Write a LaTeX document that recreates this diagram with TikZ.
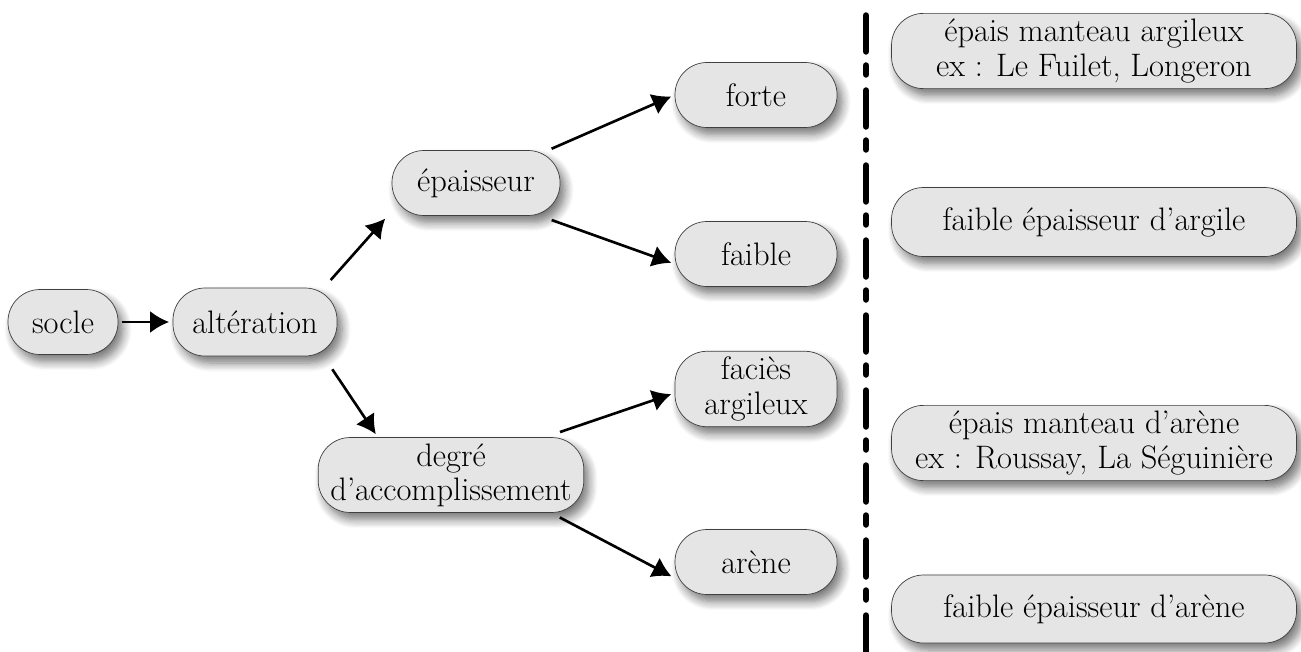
\documentclass[tikz,border=0pt]{standalone}
\usepackage{fontspec}
\usetikzlibrary{arrows.meta,shadows.blur}
\tikzstyle{block} = [rectangle, draw=black!75, fill=black!10, align=center, rounded corners=0.64cm, minimum height=1.3cm, inner xsep=2pt, font=\fontsize{18.5}{19.5}\selectfont, blur shadow={shadow xshift=0.1cm, shadow yshift=-0.14cm, shadow blur steps=8, shadow blur radius=5pt, shadow opacity=55}]
\tikzstyle{line} = [draw, line width=1.5pt, -{Latex[length=0.38cm,width=0.44cm]}, shorten <=2pt, shorten >=2pt]
\tikzstyle{separator} = [draw, line width=0.13cm, line cap=round, dash pattern=on 0.72cm off 0.28cm on 0.18cm off 0.32cm]

\begin{document}
\begin{tikzpicture}
  \useasboundingbox (0,0) rectangle (26.02,-13.02);

  \node [block, minimum width=2.2cm]  (socle)  at (1.26,-6.44) {socle};
  \node [block, minimum width=3.28cm, minimum height=1.36cm] (alteration) at (5.1,-6.44) {altération};

  \node [block, minimum width=3.36cm] (epaisseur) at (9.52,-3.66) {épaisseur};
  \node [block, inner xsep=7pt, minimum height=1.4cm] (degre) at (9.02,-9.5) {degré\\d’accomplissement};

  \node [block, minimum width=3.24cm] (forte) at (15.12,-1.9) {forte};
  \node [block, minimum width=3.24cm] (faible) at (15.12,-5.08) {faible};
  \node [block, minimum width=3.24cm, minimum height=1.32cm] (facies) at (15.12,-7.78) {faciès\\argileux};
  \node [block, minimum width=3.24cm] (arene) at (15.12,-11.24) {arène};

  \node [block, minimum width=8.1cm, minimum height=1.36cm] (manteau_argile) at (21.88,-1.02) {épais manteau argileux\\ex : Le Fuilet, Longeron};
  \node [block, minimum width=8.1cm, minimum height=1.38cm] (faible_argile) at (21.88,-4.44) {faible épaisseur d’argile};
  \node [block, minimum width=8.1cm, minimum height=1.4cm] (manteau_arene) at (21.88,-8.86) {épais manteau d’arène\\ex : Roussay, La Séguinière};
  \node [block, minimum width=8.1cm, minimum height=1.36cm] (faible_arene) at (21.88,-12.18) {faible épaisseur d’arène};

  \path [line] (socle) -- (alteration);
  \path [line] ([xshift=-0.18cm,yshift=0.1cm]alteration.north east) -- ([xshift=-0.08cm]epaisseur.south west);
  \path [line] ([xshift=-0.14cm,yshift=-0.2cm]alteration.south east) -- ([xshift=1.2cm]degre.north west);

  \path [line] ([xshift=-0.24cm]epaisseur.north east) -- (forte.west);
  \path [line] ([xshift=-0.24cm,yshift=-0.06cm]epaisseur.south east) -- ([yshift=-0.2cm]faible.west);
  \path [line] ([xshift=-0.55cm,yshift=0.08cm]degre.north east) -- ([yshift=-0.08cm]facies.west);
  \path [line] ([xshift=-0.55cm,yshift=-0.06cm]degre.south east) -- ([yshift=-0.32cm]arene.west);

  % separation
  \coordinate (sep_top) at (17.32,-0.31);
  \coordinate (sep_bottom) at (17.32,-13.1);
  \path [separator] (sep_top) -- (sep_bottom);
\end{tikzpicture}
\end{document}
